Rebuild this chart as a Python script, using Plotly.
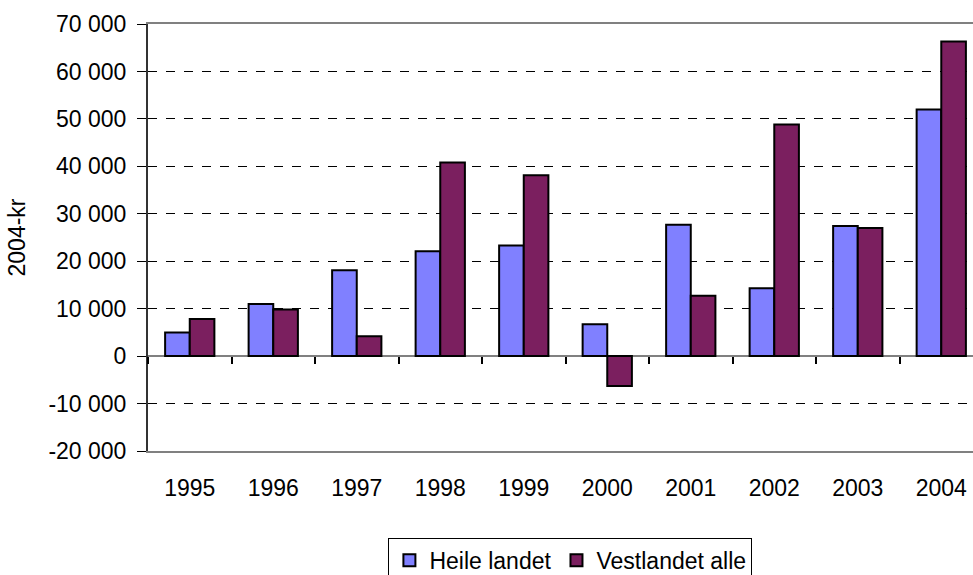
import plotly.graph_objects as go

years = ["1995", "1996", "1997", "1998", "1999", "2000", "2001", "2002", "2003", "2004"]
heile_landet = [5000, 11000, 18100, 22100, 23300, 6700, 27700, 14300, 27400, 52000]
vestlandet_alle = [7800, 9800, 4200, 40800, 38100, -6300, 12700, 48800, 27000, 66300]
y_tickvals = [-20000, -10000, 0, 10000, 20000, 30000, 40000, 50000, 60000, 70000]
y_ticktext = ["-20 000", "-10 000", "0", "10 000", "20 000", "30 000", "40 000", "50 000", "60 000", "70 000"]

FONT = "Liberation Sans, Arial, sans-serif"
fs = 23

fig = go.Figure()
fig.add_trace(go.Bar(x=years, y=heile_landet, name="Heile landet",
                     marker=dict(color="#8080FF", line=dict(color="black", width=2))))
fig.add_trace(go.Bar(x=years, y=vestlandet_alle, name="Vestlandet alle",
                     marker=dict(color="#7B1F5F", line=dict(color="black", width=2))))
# invisible trace for the zero-line tick axis
fig.add_trace(go.Scatter(x=years, y=[None]*len(years), xaxis="x2", showlegend=False,
                         hoverinfo="skip"))

ymin, ymax = -20000, 70000
pos0 = (0 - ymin) / (ymax - ymin)

fig.update_layout(
    width=973, height=575,
    margin=dict(l=148, r=0, t=24, b=124, autoexpand=False),
    paper_bgcolor="white", plot_bgcolor="white",
    font=dict(family=FONT, size=fs, color="black"),
    barmode="group", bargap=0.41, bargroupgap=0,
    xaxis=dict(
        type="category", range=[-0.5, 9.38],
        showline=True, linecolor="#808080", linewidth=2, mirror=True,
        ticks="outside", ticklen=15, tickcolor="rgba(0,0,0,0)",
        showgrid=False, zeroline=False,
        tickfont=dict(family=FONT, size=fs),
    ),
    xaxis2=dict(
        type="category", overlaying="x", matches="x", anchor="free", position=pos0,
        side="bottom", showline=False, showticklabels=False,
        ticks="outside", tickson="boundaries", ticklen=7, tickwidth=1.5, tickcolor="black",
        showgrid=False, zeroline=False,
    ),
    yaxis=dict(
        range=[ymin, ymax], tickvals=y_tickvals, ticktext=y_ticktext,
        showline=True, linecolor="#333333", linewidth=2,
        ticks="outside", ticklen=9, tickwidth=1, tickcolor="black",
        ticklabelstandoff=6,
        showgrid=True, gridcolor="black", gridwidth=1, griddash="dash",
        zeroline=True, zerolinecolor="#808080", zerolinewidth=2,
        title=dict(text="2004-kr", font=dict(family=FONT, size=fs), standoff=16),
        tickfont=dict(family=FONT, size=fs),
    ),
    legend=dict(
        orientation="h", x=0.512, xanchor="center", y=-0.203, yanchor="top",
        bordercolor="black", borderwidth=1, bgcolor="white",
        font=dict(family=FONT, size=fs), itemwidth=30, tracegroupgap=0,
    ),
    showlegend=True,
)

fig.write_html(
    "out.html",
    config={"displayModeBar": False},
    post_script="document.body.style.margin='0px';document.body.style.overflow='hidden';",
)
